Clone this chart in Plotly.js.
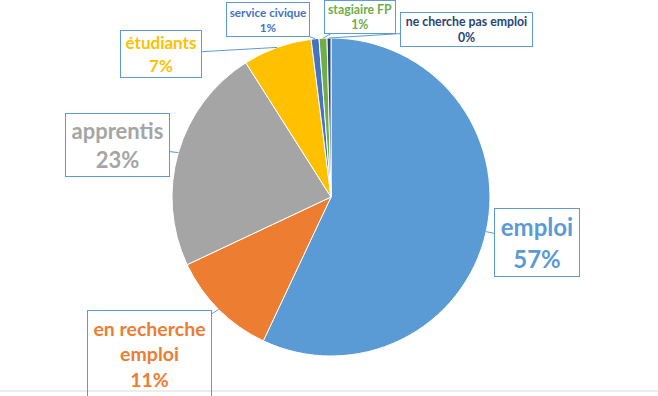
<!DOCTYPE html>
<html>
<head>
<meta charset="utf-8">
<script src="https://cdn.plot.ly/plotly-3.0.1.min.js"></script>
<style>html,body{margin:0;padding:0;background:#fff;}#chart{width:658px;height:396px;}</style>
</head>
<body>
<div id="chart"></div>
<script>
// Data
const categories = ["emploi", "en recherche emploi", "apprentis", "étudiants", "service civique", "stagiaire FP", "ne cherche pas emploi"];
const values = [57, 11, 23, 7, 0.8, 0.8, 0.4];
const sliceColors = ["#5B9BD5", "#ED7D31", "#A5A5A5", "#FFC000", "#4472C4", "#70AD47", "#264478"];
const labelLines = [["emploi"], ["en recherche", "emploi"], ["apprentis"], ["étudiants"], ["service civique"], ["stagiaire FP"], ["ne cherche pas emploi"]];

// Layout (pixel geometry)
const W = 658, H = 396;
const cx = 331, cy = 197, R = 159;
// callout boxes: centre x, centre y, width, height, font size
const boxes = [
  {x: 537, y: 242, w: 86, h: 69, fs: 24},
  {x: 149.5, y: 354, w: 125, h: 88, fs: 19.5},
  {x: 117.5, y: 145, w: 105, h: 64, fs: 22},
  {x: 161, y: 54, w: 82, h: 48, fs: 17},
  {x: 268, y: 19.5, w: 84, h: 35, fs: 11.7},
  {x: 360, y: 17, w: 72, h: 34, fs: 12.3},
  {x: 466.5, y: 29.5, w: 133, h: 35, fs: 12.3}
];

const total = values.reduce((a, b) => a + b, 0);
let cum = 0;
const annotations = values.map((v, i) => {
  const mid = (cum + v / 2) / total;
  cum += v;
  const th = mid * 2 * Math.PI;
  const tx = cx + R * Math.sin(th);
  const ty = cy - R * Math.cos(th);
  const b = boxes[i];
  const pct = Math.round(v / total * 100) + "%";
  const txt = labelLines[i].concat([pct]).map(s => "<b>" + s + "</b>").join("<br>");
  return {
    xref: "paper", yref: "paper",
    x: tx / W, y: 1 - ty / H,
    ax: b.x - tx, ay: b.y - ty,
    axref: "pixel", ayref: "pixel",
    text: txt,
    showarrow: true, arrowhead: 0, arrowwidth: 1, arrowcolor: "#5B9BD5", standoff: 0,
    width: b.w - 2, height: b.h - 2,
    borderpad: 0, borderwidth: 1, bordercolor: "#5B9BD5",
    bgcolor: "rgba(255,255,255,0)",
    align: "center", valign: "middle",
    font: {family: "Lato, 'Open Sans', sans-serif", size: b.fs, color: sliceColors[i]}
  };
});

const trace = {
  type: "pie",
  labels: categories,
  values: values,
  sort: false,
  direction: "clockwise",
  rotation: 0,
  textinfo: "none",
  hoverinfo: "label+percent",
  marker: {colors: sliceColors, line: {color: "#ffffff", width: 1}},
  domain: {x: [(cx - R) / W, (cx + R) / W], y: [1 - (cy + R) / H, 1 - (cy - R) / H]},
  showlegend: false
};

const layout = {
  width: W, height: H,
  margin: {l: 0, r: 0, t: 0, b: 0},
  paper_bgcolor: "#ffffff",
  showlegend: false,
  annotations: annotations,
  shapes: [{type: "line", xref: "paper", yref: "paper", x0: 0, x1: 1, y0: 1 - 391 / H, y1: 1 - 391 / H, line: {color: "#d9d9d9", width: 1}}]
};

Plotly.newPlot("chart", [trace], layout, {displayModeBar: false, staticPlot: true});
</script>
</body>
</html>
